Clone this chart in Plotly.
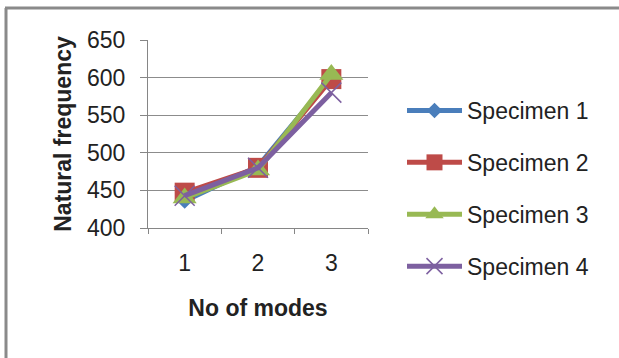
import plotly.graph_objects as go

modes = ["1", "2", "3"]
specimen_names = ["Specimen 1", "Specimen 2", "Specimen 3", "Specimen 4"]
specimen1 = [436, 482, 600]
specimen2 = [447, 480, 598]
specimen3 = [440, 477, 604]
specimen4 = [443, 480, 580]
y_ticks = [400, 450, 500, 550, 600, 650]

colors = ["#4A7EBB", "#BE4B48", "#98B954", "#7D60A0"]
symbols = ["diamond", "square", "triangle-up", "x-thin-open"]
msizes = [12, 20, 21, 20]
series = [specimen1, specimen2, specimen3, specimen4]

FONT = "Liberation Sans"
FS = 23

fig = go.Figure()
for i, (name, vals) in enumerate(zip(specimen_names, series)):
    marker = dict(symbol=symbols[i], size=msizes[i], color=colors[i])
    if symbols[i] == "x-thin-open":
        marker["line"] = dict(color="#9A84BC", width=1.5)
    fig.add_trace(go.Scatter(
        x=modes, y=vals, name=name, mode="lines+markers",
        line=dict(color=colors[i], width=5),
        marker=marker, legendgroup=name,
    ))

fig.update_layout(
    width=619, height=358,
    margin=dict(l=148, r=251, t=40, b=130),
    paper_bgcolor="white", plot_bgcolor="white",
    font=dict(family=FONT, size=FS, color="#222"),
    showlegend=True,
    legend=dict(
        x=(402 - 148) / 220, xanchor="left",
        y=1 - (89 - 40) / 188, yanchor="top",
        font=dict(family=FONT, size=FS, color="#222"),
        itemwidth=55, tracegroupgap=19,
        traceorder="grouped", maxheight=320,
        bgcolor="rgba(0,0,0,0)",
    ),
    xaxis=dict(
        type="category", range=[-0.5, 2.5],
        showline=True, linecolor="#868686", linewidth=1,
        ticks="outside", tickson="boundaries", ticklen=5, tickcolor="#868686",
        showgrid=False, ticklabelstandoff=14,
        tickfont=dict(family=FONT, size=FS, color="#222"),
        title=dict(text="<b>No of modes</b>", font=dict(family=FONT, size=FS, color="#222"), standoff=25),
    ),
    yaxis=dict(
        range=[400, 650], tickvals=y_ticks,
        showline=True, linecolor="#868686", linewidth=1,
        ticks="outside", ticklen=7, tickcolor="#868686",
        showgrid=True, gridcolor="#8C8C8C", gridwidth=1,
        zeroline=False, ticklabelstandoff=10,
        tickfont=dict(family=FONT, size=FS, color="#222"),
        title=dict(text="<b>Natural frequency</b>", font=dict(family=FONT, size=FS, color="#222"), standoff=8),
    ),
)

# outer chart frame (top and left edges visible)
fig.add_shape(type="line", xref="paper", yref="paper", x0=-143/220, x1=471/220,
              y0=1 + 32/188, y1=1 + 32/188, line=dict(color="#8A8A8A", width=3))
fig.add_shape(type="line", xref="paper", yref="paper", x0=-142/220, x1=-142/220,
              y0=1 + 32/188, y1=-130/188, line=dict(color="#8A8A8A", width=3))

fig.write_html("out.html")
